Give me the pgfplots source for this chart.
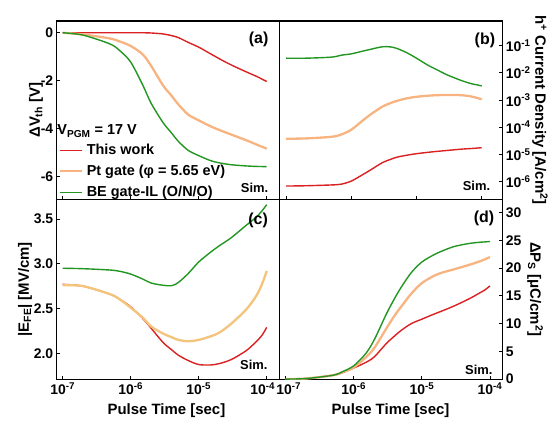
\documentclass[border=0pt]{standalone}
\usepackage{fontspec}
\setmainfont{Liberation Sans}
\usepackage{pgfplots}
\pgfplotsset{compat=1.18}
\usepackage{pgfplotstable}

\definecolor{cRed}{RGB}{218,32,32}
\definecolor{cPt}{RGB}{247,180,128}
\definecolor{cPtE}{RGB}{244,196,124}
\definecolor{cBE}{RGB}{34,150,34}

\newcommand{\lblfont}{\fontsize{14}{17}\selectfont\bfseries}

% Threshold-voltage shift [V]
\pgfplotstableread{
t      red    pt     be
1e-7   0      0      0
2e-7   0      -0.07  -0.10
5e-7   0      -0.24  -0.47
7e-7   0      -0.37  -0.76
1e-6   0      -0.55  -1.22
1.5e-6 0      -0.90  -2.17
2e-6   -0.01  -1.38  -2.94
3e-6   -0.05  -2.20  -3.75
4e-6   -0.12  -2.63  -4.18
5e-6   -0.20  -2.98  -4.52
7e-6   -0.40  -3.41  -4.90
1e-5   -0.60  -3.65  -5.12
1.5e-5 -0.88  -3.90  -5.33
2e-5   -1.08  -4.05  -5.42
3e-5   -1.34  -4.24  -5.50
5e-5   -1.63  -4.48  -5.55
7e-5   -1.81  -4.65  -5.57
8.5e-5 -1.93  -4.75  -5.575
1e-4   -2.03  -4.83  -5.58
}\dataVth

% Hole current density [A/cm^2]
\pgfplotstableread{
t      red      pt       be
1e-7   6.92e-7  3.80e-5  3.47e-2
2e-7   7.08e-7  3.89e-5  3.47e-2
5e-7   7.59e-7  4.47e-5  3.80e-2
7e-7   8.10e-7  5.40e-5  4.47e-2
1e-6   1.05e-6  8.10e-5  5.01e-2
1.5e-6 1.82e-6  1.78e-4  6.31e-2
2e-6   2.75e-6  3.02e-4  7.41e-2
3e-6   5.01e-6  5.75e-4  9.12e-2
4e-6   6.61e-6  7.76e-4  9.02e-2
5e-6   7.94e-6  9.33e-4  7.94e-2
7e-6   9.33e-6  1.15e-3  5.62e-2
1e-5   1.07e-5  1.32e-3  3.47e-2
1.5e-5 1.20e-5  1.45e-3  1.91e-2
2e-5   1.29e-5  1.51e-3  1.35e-2
3e-5   1.41e-5  1.55e-3  8.32e-3
5e-5   1.58e-5  1.51e-3  5.13e-3
7e-5   1.66e-5  1.35e-3  3.98e-3
8.5e-5 1.72e-5  1.20e-3  3.63e-3
1e-4   1.78e-5  1.07e-3  3.31e-3
}\dataJh

% Field in the ferroelectric [MV/cm]
\pgfplotstableread{
t      red    pt    be
1e-7   2.77   2.76  2.95
2e-7   2.75   2.75  2.945
5e-7   2.66   2.66  2.93
7e-7   2.60   2.60  2.915
1e-6   2.52   2.51  2.885
1.5e-6 2.39   2.40  2.83
2e-6   2.28   2.30  2.785
3e-6   2.12   2.22  2.76
4e-6   2.04   2.18  2.755
5e-6   1.98   2.15  2.79
7e-6   1.92   2.135 2.89
1e-5   1.875  2.15  3.02
1.5e-5 1.87   2.19  3.13
2e-5   1.885  2.23  3.20
3e-5   1.93   2.33  3.29
5e-5   2.03   2.49  3.43
7e-5   2.13   2.64  3.52
8.5e-5 2.20   2.77  3.59
1e-4   2.29   2.92  3.66
}\dataEfe

% Switched polarization [uC/cm^2]
\pgfplotstableread{
t      red   pt    be
1e-7   0     0     0
2e-7   0.1   0.1   0.1
5e-7   0.7   0.7   0.7
7e-7   1.2   1.3   1.4
1e-6   2.0   2.1   2.4
1.5e-6 3.0   3.9   4.6
2e-6   4.0   5.6   7.1
3e-6   6.4   9.1   11.7
4e-6   7.8   11.5  14.6
5e-6   8.8   13.1  16.6
7e-6   10.0  15.4  19.2
1e-5   10.8  17.3  21.1
1.5e-5 11.7  18.6  22.4
2e-5   12.3  19.2  23.1
3e-5   13.2  19.8  23.9
5e-5   14.5  20.6  24.45
7e-5   15.5  21.2  24.65
8.5e-5 16.1  21.6  24.72
1e-4   16.8  22.0  24.8
}\dataPs

\pgfplotsset{
  panel/.style={
    scale only axis, anchor=south west,
    axis line style={line width=1.1bp},
    tick style={line width=0.9bp, black},
    major tick length=3.5bp,
    xminorticks=false, yminorticks=false,
    xtick={1e-7,1e-6,1e-5,1e-4}, xtick pos=bottom,
    tick label style={font=\lblfont},
    label style={font=\fontsize{15}{18}\selectfont\bfseries},
  },
}
\tikzset{
  rline/.style={cRed, line width=1.4bp, smooth},
  pline/.style={cPt, line width=2.3bp, smooth},
  gline/.style={cBE, line width=1.4bp, smooth},
}

\begin{document}
\begin{tikzpicture}
\useasboundingbox (0,0) rectangle (551bp,422bp);

% (a) threshold voltage shift
\begin{axis}[panel, xmode=log,
  at={(56.7bp,222.7bp)}, width=222.6bp, height=178.3bp,
  xmin=8.17e-8, xmax=1.531e-4, ymin=-6.94, ymax=0.49,
  xticklabels={},
  ytick={0,-2,-4,-6}, yticklabels={0,-2,-4,-6}, ytick pos=left,
  ylabel={ΔV\textsubscript{th} [V]},
  ylabel style={at={(axis description cs:-0.093,0.5)}, anchor=center},
  legend image code/.code={\draw[#1] (0bp,0bp) -- (22bp,0bp);},
  legend style={at={(axis description cs:0.007,0.335)}, anchor=north west,
    draw=none, fill=none, inner sep=0pt, row sep=0pt, column sep=2bp,
    font=\fontsize{14.5}{17}\selectfont\bfseries,
    nodes={text height=11bp, text depth=3.5bp, inner ysep=3.25bp, inner xsep=2bp}},
  legend cell align=left,
]
\addplot[rline] table[x=t, y=red] {\dataVth};
\addlegendentry{This work}
\addplot[pline] table[x=t, y=pt] {\dataVth};
\addlegendentry{Pt gate (φ = 5.65 eV)}
\addplot[gline] table[x=t, y=be] {\dataVth};
\addlegendentry{BE gate-IL (O/N/O)}
\node[anchor=base west, inner sep=0.5bp, font=\fontsize{14.5}{17}\selectfont\bfseries]
  at (axis description cs:0,0.361) {V\textsubscript{PGM} = 17 V};
\node[font=\fontsize{16}{19}\selectfont\bfseries] at (axis description cs:0.907,0.896) {(a)};
\node[font=\fontsize{13}{16}\selectfont\bfseries] at (axis description cs:0.889,0.066) {Sim.};
\end{axis}

% (b) hole current density
\begin{axis}[panel, xmode=log, ymode=log,
  at={(279.3bp,222.7bp)}, width=223bp, height=178.3bp,
  xmin=7.88e-8, xmax=2.07e-4, ymin=2.25e-7, ymax=0.809,
  xticklabels={},
  ytick={1e-6,1e-5,1e-4,1e-3,1e-2,1e-1},
  yticklabels={10\textsuperscript{-6},10\textsuperscript{-5},10\textsuperscript{-4},10\textsuperscript{-3},10\textsuperscript{-2},10\textsuperscript{-1}},
  ytick pos=right, yticklabel pos=right,
  ylabel={h\textsuperscript{+} Current Density [A/cm\textsuperscript{2}]},
  ylabel style={at={(axis description cs:1.169,0.5)}, anchor=center, rotate=180},
]
\addplot[rline] table[x=t, y=red] {\dataJh};
\addplot[pline] table[x=t, y=pt] {\dataJh};
\addplot[gline] table[x=t, y=be] {\dataJh};
\node[font=\fontsize{16}{19}\selectfont\bfseries] at (axis description cs:0.922,0.893) {(b)};
\node[font=\fontsize{13}{16}\selectfont\bfseries] at (axis description cs:0.884,0.075) {Sim.};
\end{axis}

% (c) ferroelectric field
\begin{axis}[panel, xmode=log,
  at={(56.7bp,42.7bp)}, width=222.6bp, height=180bp,
  xmin=8.17e-8, xmax=1.531e-4, ymin=1.71, ymax=3.72,
  xticklabels={10\textsuperscript{-7},10\textsuperscript{-6},10\textsuperscript{-5},\kern-8bp 10\textsuperscript{-4}},
  ytick={2,2.5,3,3.5}, yticklabels={2.0,2.5,3.0,3.5}, ytick pos=left,
  xlabel={Pulse Time [sec]},
  xlabel style={at={(axis description cs:0.493,-0.176)}, anchor=center},
  ylabel={|E\textsubscript{FE}| [MV/cm]},
  ylabel style={at={(axis description cs:-0.142,0.5)}, anchor=center},
]
\addplot[rline] table[x=t, y=red] {\dataEfe};
\addplot[pline, cPtE] table[x=t, y=pt] {\dataEfe};
\addplot[gline] table[x=t, y=be] {\dataEfe};
\node[font=\fontsize{16}{19}\selectfont\bfseries] at (axis description cs:0.905,0.882) {(c)};
\node[font=\fontsize{13}{16}\selectfont\bfseries] at (axis description cs:0.886,0.079) {Sim.};
\end{axis}

% (d) switched polarization
\begin{axis}[panel, xmode=log,
  at={(279.3bp,42.7bp)}, width=223bp, height=180bp,
  xmin=8.05e-8, xmax=1.517e-4, ymin=-0.04, ymax=32.4,
  xticklabels={10\textsuperscript{-7}\kern-6bp,10\textsuperscript{-6},10\textsuperscript{-5},10\textsuperscript{-4}},
  ytick={0,5,10,15,20,25,30}, yticklabels={0,5,10,15,20,25,30},
  ytick pos=right, yticklabel pos=right,
  xlabel={Pulse Time [sec]},
  xlabel style={at={(axis description cs:0.499,-0.176)}, anchor=center},
  ylabel={ΔP\textsubscript{S} [μC/cm\textsuperscript{2}]},
  ylabel style={at={(axis description cs:1.147,0.5)}, anchor=center, rotate=180},
]
\addplot[rline] table[x=t, y=red] {\dataPs};
\addplot[pline] table[x=t, y=pt] {\dataPs};
\addplot[gline] table[x=t, y=be] {\dataPs};
\node[font=\fontsize{16}{19}\selectfont\bfseries] at (axis description cs:0.918,0.893) {(d)};
\node[font=\fontsize{13}{16}\selectfont\bfseries] at (axis description cs:0.895,0.052) {Sim.};
\end{axis}
\end{tikzpicture}
\end{document}
